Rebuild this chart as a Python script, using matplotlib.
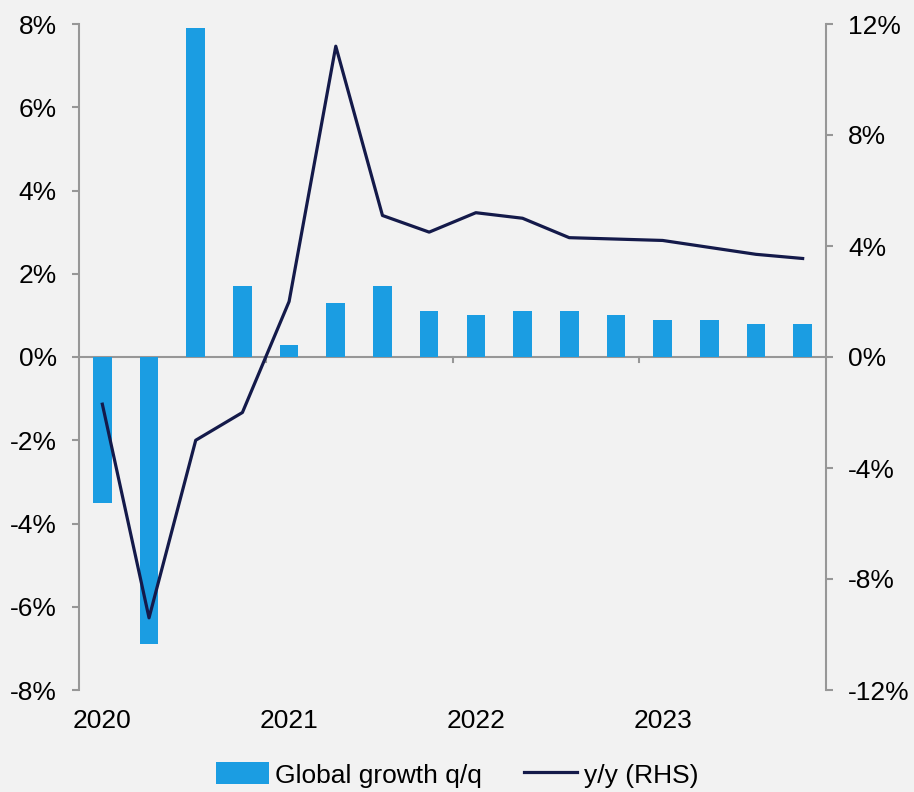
import matplotlib
matplotlib.use("Agg")
import matplotlib.pyplot as plt
from matplotlib.ticker import FuncFormatter
import numpy as np

plt.rcParams['font.family'] = ['Liberation Sans', 'DejaVu Sans']

quarters = ["2020Q1", "2020Q2", "2020Q3", "2020Q4",
            "2021Q1", "2021Q2", "2021Q3", "2021Q4",
            "2022Q1", "2022Q2", "2022Q3", "2022Q4",
            "2023Q1", "2023Q2", "2023Q3", "2023Q4"]
qoq = [-3.5, -6.9, 7.9, 1.7, 0.3, 1.3, 1.7, 1.1, 1.0, 1.1, 1.1, 1.0, 0.9, 0.9, 0.8, 0.8]
yoy = [-1.7, -9.4, -3.0, -2.0, 2.0, 11.2, 5.1, 4.5, 5.2, 5.0, 4.3, 4.25, 4.2, 3.95, 3.7, 3.55]
year_labels = ["2020", "2021", "2022", "2023"]

BG = "#f2f2f2"
BAR = "#1b9de2"
LINE = "#141a4a"
AX = "#979797"
FS = 19

fig = plt.figure(figsize=(9.14, 7.92), dpi=100, facecolor=BG)
ax = fig.add_axes([79/914, 1-690/792, (826-79)/914, (690-24)/792])
ax.set_facecolor(BG)
x = np.arange(len(quarters))

bars = ax.bar(x, qoq, width=0.4, color=BAR, label="Global growth q/q", zorder=2)
ax.set_ylim(-8, 8)
ax.set_xlim(-0.5, len(quarters) - 0.5)
ax.set_yticks(np.arange(-8, 9, 2))
ax.yaxis.set_major_formatter(FuncFormatter(lambda v, p: f"{v:.0f}%"))

ax2 = ax.twinx()
line, = ax2.plot(x, yoy, color=LINE, lw=2.3, label="y/y (RHS)", zorder=3)
ax2.set_ylim(-12, 12)
ax2.set_yticks(np.arange(-12, 13, 4))
ax2.yaxis.set_major_formatter(FuncFormatter(lambda v, p: f"{v:.0f}%"))

for a in (ax, ax2):
    for s in ("top", "bottom"):
        a.spines[s].set_visible(False)
ax.spines["right"].set_visible(False)
ax2.spines["left"].set_visible(False)
ax.spines["left"].set_color(AX)
ax.spines["left"].set_linewidth(1.5)
ax2.spines["right"].set_color(AX)
ax2.spines["right"].set_linewidth(1.5)

ax.tick_params(axis="y", direction="out", length=5, width=1.5, color=AX,
               labelsize=FS, pad=11)
ax2.tick_params(axis="y", direction="out", length=5, width=1.5, color=AX,
                labelsize=FS, pad=11)

# zero line
ax.axhline(0, color=AX, lw=1.5, zorder=1)

# year boundary ticks on zero line
ax.tick_params(axis="x", which="both", length=0, labelsize=FS, pad=14)
for b in [3.5, 7.5, 11.5]:
    ax.plot([b, b], [0, -0.12], color=AX, lw=1.5, zorder=1, clip_on=False)

ax.set_xticks([0, 4, 8, 12])
ax.set_xticklabels(year_labels)

leg = fig.legend(handles=[bars, line], labels=["Global growth q/q", "y/y (RHS)"],
                 loc="center", bbox_to_anchor=(0.5, 1-775/792), ncol=2,
                 frameon=False, fontsize=FS, handlelength=2.0, handleheight=0.9,
                 columnspacing=1.6, handletextpad=0.25)

fig.savefig("out.png", dpi=100, facecolor=BG)
